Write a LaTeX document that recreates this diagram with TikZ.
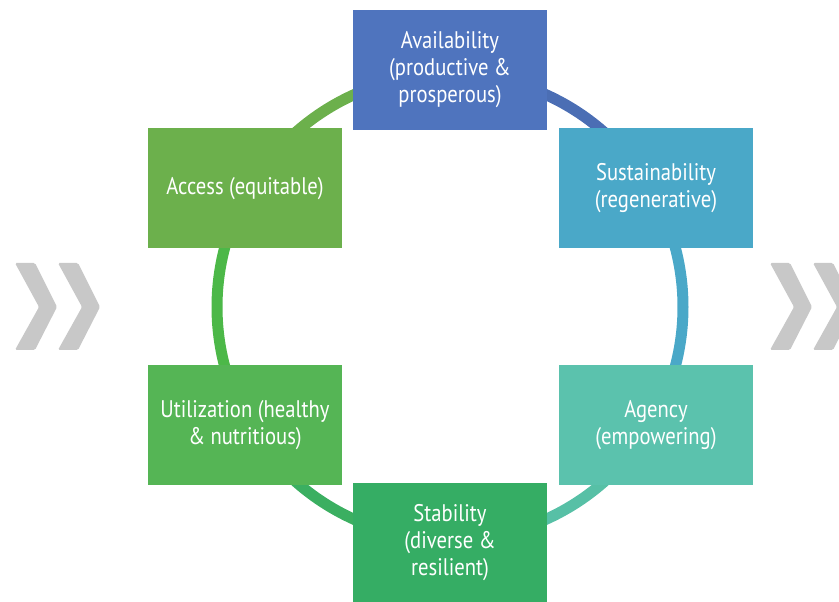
\documentclass[tikz,border=0pt]{standalone}
\usepackage{fontspec}
\setmainfont{PT Sans}[FakeStretch=0.86]
\usepackage{tikz}
\usetikzlibrary{positioning}
\definecolor{availBlue}{RGB}{79,116,190}
\definecolor{sustBlue}{RGB}{74,168,200}
\definecolor{agencyTeal}{RGB}{91,194,173}
\definecolor{stabGreen}{RGB}{53,173,100}
\definecolor{utilGreen}{RGB}{85,181,85}
\definecolor{accessGreen}{RGB}{108,176,76}
\definecolor{ringGreen}{RGB}{76,184,72}
\definecolor{chevGray}{RGB}{200,200,200}

\begin{document}
\begin{tikzpicture}[x=1pt, y=1pt,
	pillar/.style={minimum width=194pt, minimum height=120pt, inner sep=0pt, align=center, text=white, font=\fontsize{24}{27}\selectfont},
	ring/.style={line width=11pt},
	chevron/.style={fill=chevGray, rounded corners=1.5pt}]
	\useasboundingbox (0,0) rectangle (839,602);
	\clip (0,0) rectangle (839,602);
	\coordinate (hub) at (450,295);
	% ring
	\draw[ring, draw=availBlue!95!black] (hub) ++(90:233pt) arc[start angle=90, end angle=30, radius=233pt];
	\draw[ring, draw=sustBlue] (hub) ++(30:233pt) arc[start angle=30, end angle=-30, radius=233pt];
	\draw[ring, draw=agencyTeal!90!stabGreen] (hub) ++(-30:233pt) arc[start angle=-30, end angle=-90, radius=233pt];
	\draw[ring, draw=stabGreen!80!utilGreen] (hub) ++(-90:233pt) arc[start angle=-90, end angle=-150, radius=233pt];
	\draw[ring, draw=ringGreen] (hub) ++(-150:233pt) arc[start angle=-150, end angle=-210, radius=233pt];
	\draw[ring, draw=accessGreen] (hub) ++(150:233pt) arc[start angle=150, end angle=90, radius=233pt];
	% the six pillars
	\node[pillar, fill=availBlue] (avail) at (450,532) {Availability\\(productive \&\\prosperous)};
	\node[pillar, fill=sustBlue] (sust) at (656,413.5) {Sustainability\\(regenerative)};
	\node[pillar, fill=agencyTeal] (agency) at (656,176.5) {Agency\\(empowering)};
	\node[pillar, fill=stabGreen] (stab) at (450,59) {Stability\\(diverse \&\\resilient)};
	\node[pillar, fill=utilGreen] (util) at (245,176.5) {Utilization (healthy\\\& nutritious)};
	\node[pillar, fill=accessGreen] (access) at (245,413.5) {Access (equitable)};
	% chevrons
	\foreach \x in {15,58,770,813}
		\fill[chevron] (\x,339) -- ++(20,0) -- ++(22,-44) -- ++(-22,-43) -- ++(-20,0) -- ++(24,43) -- cycle;
\end{tikzpicture}
\end{document}
